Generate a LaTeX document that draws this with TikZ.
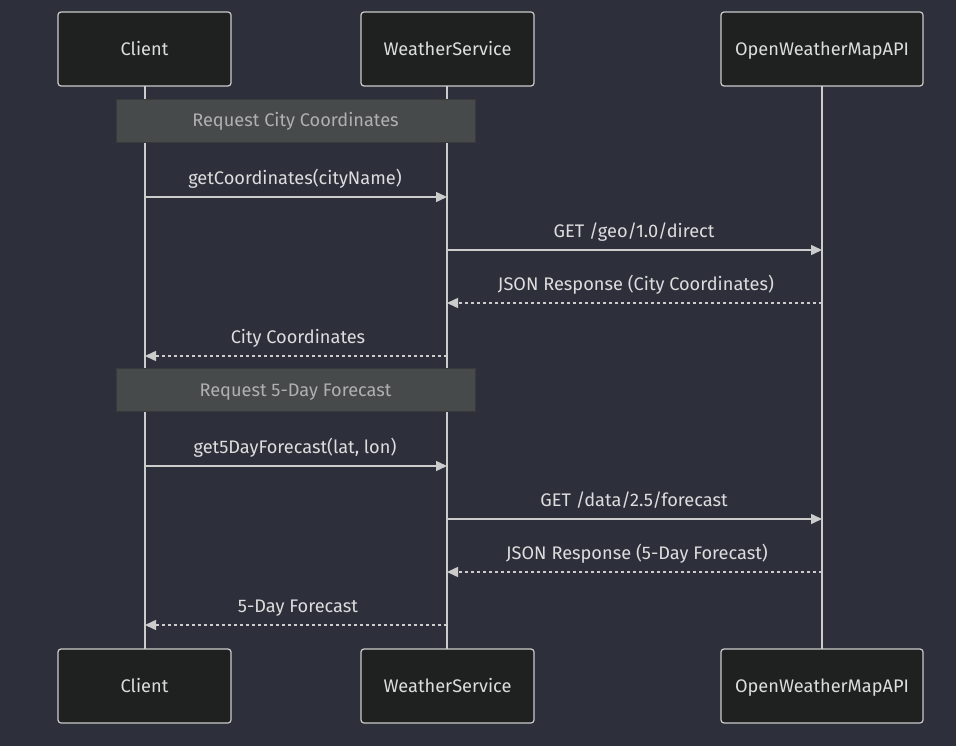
\documentclass[tikz,border=0pt]{standalone}
\usepackage{fontspec}
\setmainfont{Fira Sans}
\usetikzlibrary{arrows.meta}
\definecolor{bg}{HTML}{2D303B}
\definecolor{actfill}{HTML}{1F2020}
\definecolor{fg}{HTML}{CCCCCC}
\definecolor{lblfg}{HTML}{DDDDDD}
\definecolor{notefill}{HTML}{474A4A}
\definecolor{notetext}{HTML}{B0B0B0}
\tikzset{
  txt/.style={font=\fontsize{18.2}{21}\selectfont, text height=13pt, text depth=0pt},
  actor/.style={txt, draw=fg, fill=actfill, rounded corners=3pt, line width=1.2pt, minimum width=173pt, minimum height=74pt, text=lblfg, inner sep=0pt},
  wideactor/.style={actor, minimum width=202pt},
  life/.style={draw=fg, line width=1.5pt},
  note/.style={txt, fill=notefill, draw=notefill!80!black, line width=0.5pt, minimum width=359pt, minimum height=43pt, text=notetext, inner sep=0pt},
  msg/.style={draw=fg, line width=1.5pt, -{Triangle[length=11pt,width=10pt]}},
  reply/.style={msg, dash pattern=on 3pt off 3pt},
  lbl/.style={txt, text=lblfg, inner sep=0pt},
}
\begin{document}
\begin{tikzpicture}[x=1pt,y=-1pt]
\fill[bg] (0,0) rectangle (956,746);
\useasboundingbox (0,0) rectangle (956,746);
% lifelines
\coordinate (cT) at (145,86); \coordinate (cB) at (145,649);
\coordinate (wT) at (447,86); \coordinate (wB) at (447,649);
\coordinate (oT) at (822,86); \coordinate (oB) at (822,649);
\draw[life] (cT) -- (cB);
\draw[life] (wT) -- (wB);
\draw[life] (oT) -- (oB);
% actors
\node[actor] (c1) at (144.5,49) {Client};
\node[actor] (w1) at (447.5,49) {WeatherService};
\node[wideactor] (o1) at (822,49) {OpenWeatherMapAPI};
\node[actor] (c2) at (144.5,686) {Client};
\node[actor] (w2) at (447.5,686) {WeatherService};
\node[wideactor] (o2) at (822,686) {OpenWeatherMapAPI};
% notes
\node[note] (n1) at (295.5,120.5) {Request City Coordinates};
\node[note] (n2) at (295.5,389.5) {Request 5-Day Forecast};
% message endpoints
\foreach \y/\n in {197/1,250/2,303/3,356/4,466/5,519/6,572/7,625/8}{
  \coordinate (c\n) at (145,\y);
  \coordinate (w\n) at (447,\y);
  \coordinate (o\n) at (822,\y);
}
\draw[msg] (c1) -- (w1);
\node[lbl] (l1) at (295,178) {getCoordinates(cityName)};
\draw[msg] (w2) -- (o2);
\node[lbl] (l2) at (634,231) {GET /geo/1.0/direct};
\draw[reply] (o3) -- (w3);
\node[lbl] (l3) at (636,284) {JSON Response (City Coordinates)};
\draw[reply] (w4) -- (c4);
\node[lbl] (l4) at (298,337) {City Coordinates};
\draw[msg] (c5) -- (w5);
\node[lbl] (l5) at (295,447) {get5DayForecast(lat, lon)};
\draw[msg] (w6) -- (o6);
\node[lbl] (l6) at (634,500) {GET /data/2.5/forecast};
\draw[reply] (o7) -- (w7);
\node[lbl] (l7) at (637,553) {JSON Response (5-Day Forecast)};
\draw[reply] (w8) -- (c8);
\node[lbl] (l8) at (298,606) {5-Day Forecast};
\end{tikzpicture}
\end{document}
